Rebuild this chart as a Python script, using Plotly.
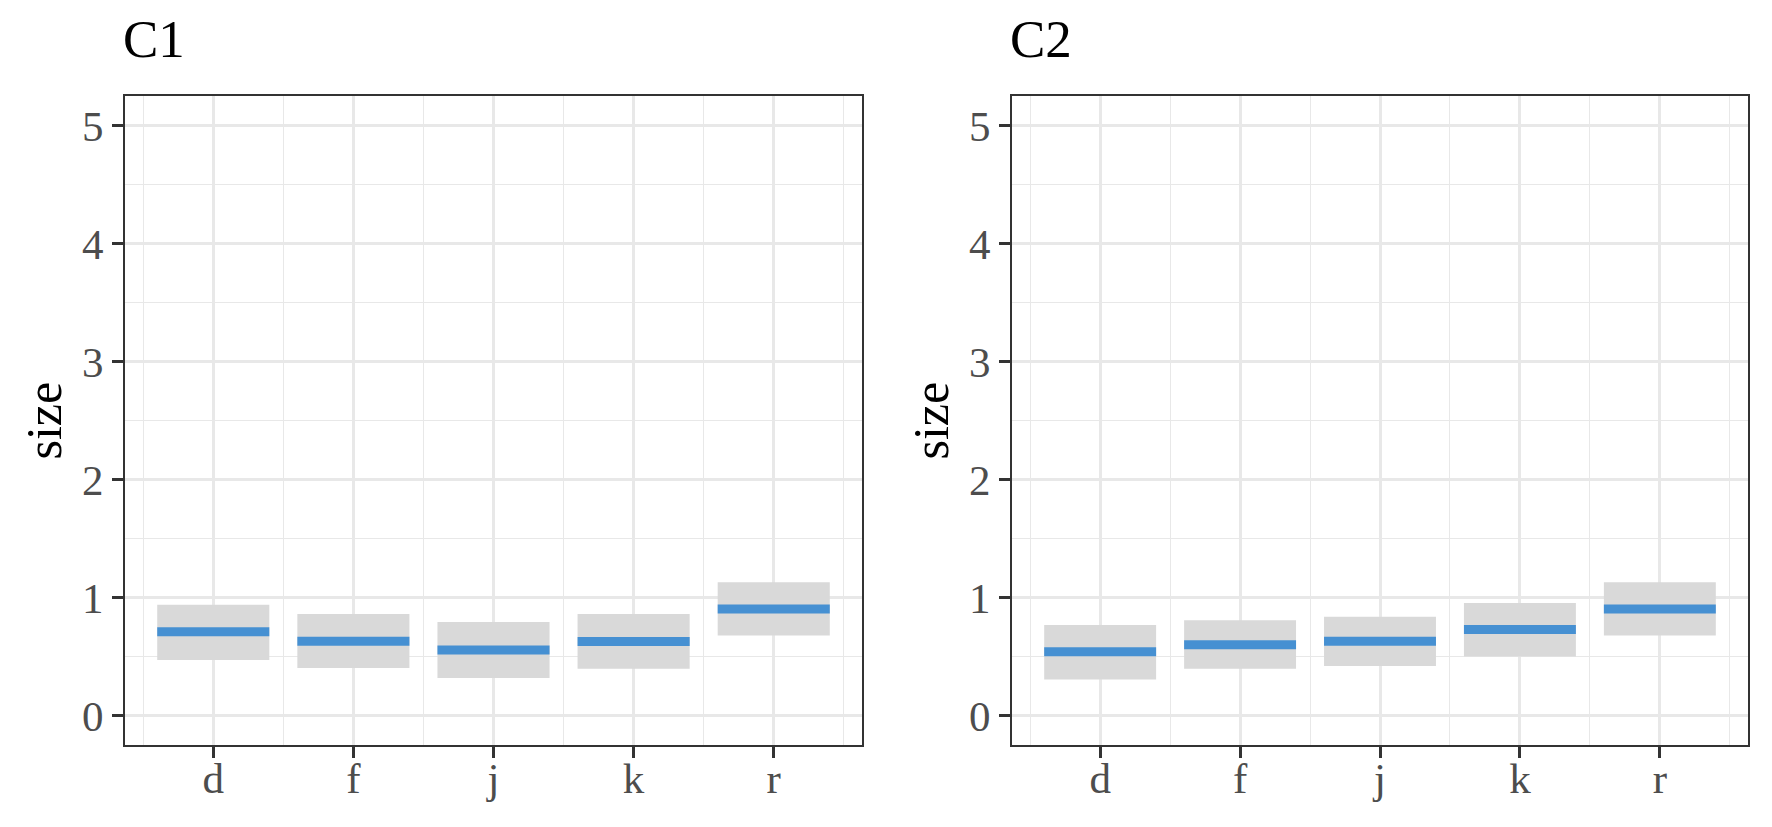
import plotly.graph_objects as go

# ---- data ----
categories = ["d", "f", "j", "k", "r"]
panels = ["C1", "C2"]
c1_mid = [0.71, 0.63, 0.556, 0.628, 0.902]
c1_low = [0.47, 0.402, 0.318, 0.396, 0.677]
c1_high = [0.938, 0.86, 0.793, 0.86, 1.13]
c2_mid = [0.54, 0.60, 0.63, 0.728, 0.902]
c2_low = [0.306, 0.396, 0.42, 0.50, 0.677]
c2_high = [0.767, 0.807, 0.837, 0.953, 1.13]
y_ticks = [0, 1, 2, 3, 4, 5]
y_label = "size"

W, H = 1772, 827
FONT = "Liberation Serif"
BLUE = "#4690D2"
BOXGREY = "#D9D9D9"
GRID = "#E8E8E8"
DARK = "#333333"

xpos = list(range(1, len(categories) + 1))
half = 0.4

fig = go.Figure()

xdoms = [(125 / W, 862 / W), (1012 / W, 1748 / W)]
ydom = (1 - 745 / H, 1 - 96 / H)

series = [(c1_mid, c1_low, c1_high), (c2_mid, c2_low, c2_high)]
for i, (mid, low, high) in enumerate(series):
    xa = "x" if i == 0 else "x2"
    ya = "y" if i == 0 else "y2"
    fig.add_trace(go.Bar(
        x=xpos, y=[h - l for h, l in zip(high, low)], base=low,
        width=2 * half, marker=dict(color=BOXGREY, line=dict(width=0)),
        xaxis=xa, yaxis=ya, showlegend=False, hoverinfo="skip"))
    lx, ly = [], []
    for xp, m in zip(xpos, mid):
        lx += [xp - half, xp + half, None]
        ly += [m, m, None]
    fig.add_trace(go.Scatter(
        x=lx, y=ly, mode="lines", line=dict(color=BLUE, width=9),
        xaxis=xa, yaxis=ya, showlegend=False, hoverinfo="skip"))

axis_common = dict(
    showline=True, mirror=True, linecolor=DARK, linewidth=1.6,
    ticks="outside", ticklen=11, tickwidth=2.6, tickcolor=DARK,
    showgrid=True, gridcolor=GRID, gridwidth=2.5, zeroline=False,
    tickfont=dict(family=FONT, size=43, color="#4D4D4D"),
)

for i in range(2):
    sx = "" if i == 0 else "2"
    fig.update_layout(**{
        f"xaxis{sx}": dict(
            domain=list(xdoms[i]), anchor=f"y{sx}", range=[0.37, 5.63],
            tickmode="array", tickvals=xpos, ticktext=categories,
            ticklabelstandoff=-16,
            minor=dict(tickmode="linear", tick0=0.5, dtick=1, showgrid=True,
                       gridcolor=GRID, gridwidth=1.4, ticklen=0),
            **axis_common),
        f"yaxis{sx}": dict(
            domain=list(ydom), anchor=f"x{sx}", range=[-0.25, 5.25],
            tickmode="array", tickvals=y_ticks,
            minor=dict(tickmode="linear", tick0=0.5, dtick=1, showgrid=True,
                       gridcolor=GRID, gridwidth=1.4, ticklen=0),
            **axis_common),
    })

annotations = []
for i, name in enumerate(panels):
    x0 = xdoms[i][0]
    annotations.append(dict(
        text=name, xref="paper", yref="paper", x=x0 - 4 / W, y=1 - 39 / H,
        xanchor="left", yanchor="middle", showarrow=False,
        font=dict(family=FONT, size=53, color="black")))
    annotations.append(dict(
        text=y_label, xref="paper", yref="paper", x=x0 - 82 / W,
        y=(ydom[0] + ydom[1]) / 2, xanchor="center", yanchor="middle",
        textangle=-90, showarrow=False,
        font=dict(family=FONT, size=50, color="black")))

fig.update_layout(
    width=W, height=H, autosize=False,
    margin=dict(l=0, r=0, t=0, b=0),
    paper_bgcolor="white", plot_bgcolor="white",
    barmode="overlay", annotations=annotations,
    font=dict(family=FONT),
)

fig.write_html("out.html", config={"displayModeBar": False},
               post_script="document.body.style.margin='0';document.body.style.overflow='hidden';")
